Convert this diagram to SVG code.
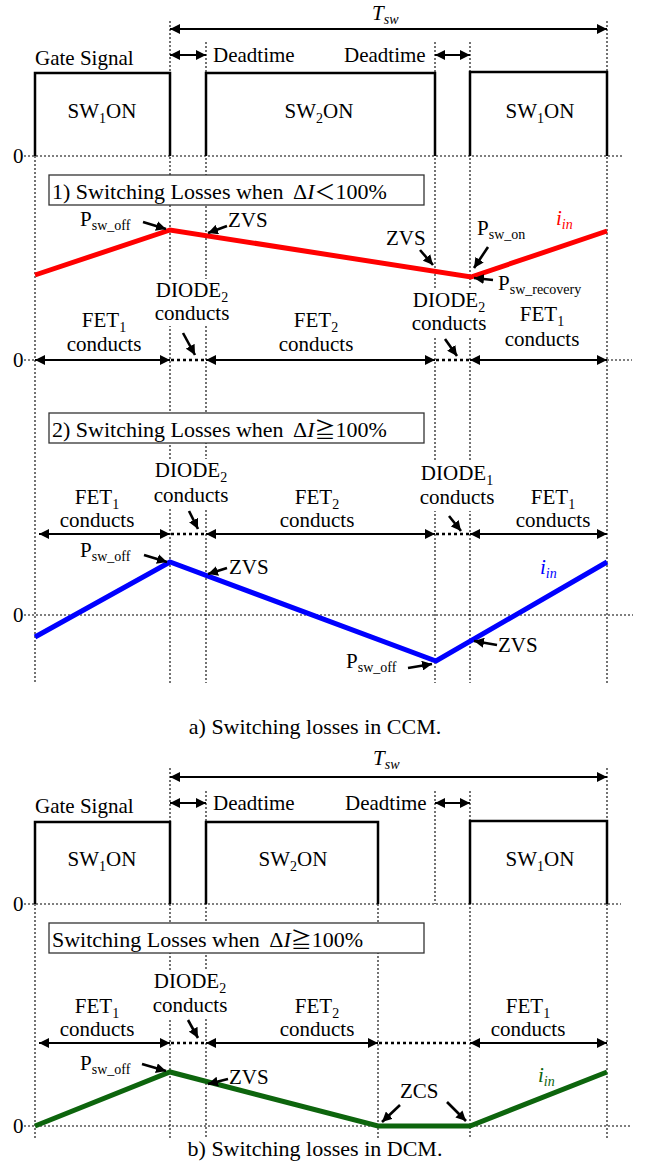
<svg xmlns="http://www.w3.org/2000/svg" width="646" height="1174" viewBox="0 0 646 1174">
<style>
.g{stroke:#000;stroke-width:1.1;stroke-dasharray:2,2;fill:none}
.z{stroke:#000;stroke-width:1.1;stroke-dasharray:2,2;fill:none}
.gate{stroke:#000;stroke-width:2.5;fill:none}
.dbl{stroke:#000;stroke-width:2;fill:none;marker-start:url(#ah);marker-end:url(#ah)}
.dot{stroke:#000;stroke-width:2.5;stroke-dasharray:3,3;fill:none}
.co{stroke:#000;stroke-width:2.6;fill:none;marker-end:url(#ah2)}
.t{font-family:"Liberation Serif","Times New Roman",serif;font-size:21px;fill:#000}
.bt{font-family:"Liberation Serif","Times New Roman",serif;font-size:22px;fill:#000}
.c{text-anchor:middle}
.cap{font-family:"Liberation Serif","Times New Roman",serif;font-size:22px;fill:#000;text-anchor:middle}
.s{font-size:14px}
.box{fill:#fff;stroke:#333;stroke-width:1.3}
.bg{fill:#fff;stroke:none}
.cur{fill:none;stroke-width:5;stroke-linejoin:miter}
</style>
<defs>
<marker id="ah" viewBox="0 0 10 10" refX="10" refY="5" markerWidth="11" markerHeight="10" markerUnits="userSpaceOnUse" orient="auto-start-reverse"><path d="M0,0 L10,5 L0,10 z" fill="#000"/></marker>
<marker id="ah2" viewBox="0 0 10 10" refX="10" refY="5" markerWidth="10" markerHeight="10" markerUnits="userSpaceOnUse" orient="auto"><path d="M0,0 L10,5 L0,10 z" fill="#000"/></marker>
</defs>
<rect width="646" height="1174" fill="#fff"/>

<g id="guides">
<line class="g" x1="35" y1="156" x2="35" y2="683"/>
<line class="g" x1="170" y1="21" x2="170" y2="683"/>
<line class="g" x1="206" y1="42" x2="206" y2="683"/>
<line class="g" x1="435" y1="42" x2="435" y2="683"/>
<line class="g" x1="470" y1="42" x2="470" y2="683"/>
<line class="g" x1="607" y1="21" x2="607" y2="683"/>
<line class="z" x1="24" y1="156" x2="623" y2="156"/>
<line class="z" x1="24" y1="360" x2="35" y2="360"/>
<line class="z" x1="607" y1="360" x2="632" y2="360"/>
<line class="z" x1="24" y1="615" x2="633" y2="615"/>
<line class="g" x1="35" y1="904" x2="35" y2="1138"/>
<line class="g" x1="170" y1="768" x2="170" y2="1138"/>
<line class="g" x1="206" y1="791" x2="206" y2="1138"/>
<line class="g" x1="378" y1="904" x2="378" y2="1138"/>
<line class="g" x1="435" y1="791" x2="435" y2="904"/>
<line class="g" x1="470" y1="791" x2="470" y2="1138"/>
<line class="g" x1="607" y1="768" x2="607" y2="1138"/>
<line class="z" x1="24" y1="904" x2="621" y2="904"/>
<line class="z" x1="24" y1="1126" x2="632" y2="1126"/>
</g>

<g id="label-backgrounds">
<rect class="bg" x="151" y="279" width="81" height="47"/>
<rect class="bg" x="409" y="289" width="80" height="47"/>
<rect class="bg" x="150" y="459" width="82" height="49"/>
<rect class="bg" x="416" y="462" width="82" height="49"/>
<rect class="bg" x="150" y="970" width="80" height="48"/>
</g>

<g id="gate-a">
<path class="gate" d="M35,156 V73 H170 V156"/>
<path class="gate" d="M206,156 V73 H435 V156"/>
<path class="gate" d="M470,156 V72 H607 V156"/>
<text class="t c" x="102" y="118">SW<tspan class="s" dy="5">1</tspan><tspan dy="-5">ON</tspan></text>
<text class="t c" x="319" y="118">SW<tspan class="s" dy="5">2</tspan><tspan dy="-5">ON</tspan></text>
<text class="t c" x="540" y="118">SW<tspan class="s" dy="5">1</tspan><tspan dy="-5">ON</tspan></text>
<text class="t" x="35" y="65">Gate Signal</text>
<text class="t" x="213" y="62">Deadtime</text>
<text class="t" x="344" y="62">Deadtime</text>
<text class="t" x="372" y="20" font-style="italic">T<tspan class="s" dy="4">sw</tspan></text>
<text class="t" x="13" y="163">0</text>
</g>

<g id="case-a1">
<rect class="box" x="49" y="175" width="375" height="30"/>
<text class="bt" x="52" y="199">1) Switching Losses when <tspan dx="4">Δ</tspan><tspan font-style="italic">I</tspan><tspan font-family="'Noto Sans CJK JP',sans-serif" font-size="21">＜</tspan>100%</text>
<polyline class="cur" stroke="#ff0000" points="35,275 170,230 471,277 607,231"/>
<text class="t" x="556" y="225" style="fill:#ff0000" font-style="italic">i<tspan class="s" dy="4">in</tspan></text>
<text class="t" x="80" y="226">P<tspan class="s" dy="4">sw_off</tspan></text>
<text class="t" x="228" y="227">ZVS</text>
<text class="t" x="386" y="245">ZVS</text>
<text class="t" x="477" y="235">P<tspan class="s" dy="4">sw_on</tspan></text>
<text class="t" x="498" y="290">P<tspan class="s" dy="4">sw_recovery</tspan></text>
<text class="t c" x="104" y="327">FET<tspan class="s" dy="5">1</tspan></text>
<text class="t c" x="104" y="351">conducts</text>
<text class="t c" x="192" y="297">DIODE<tspan class="s" dy="5">2</tspan></text>
<text class="t c" x="192" y="320">conducts</text>
<text class="t c" x="316" y="327">FET<tspan class="s" dy="5">2</tspan></text>
<text class="t c" x="316" y="351">conducts</text>
<text class="t c" x="449" y="307">DIODE<tspan class="s" dy="5">2</tspan></text>
<text class="t c" x="449" y="330">conducts</text>
<text class="t c" x="542" y="321">FET<tspan class="s" dy="5">1</tspan></text>
<text class="t c" x="542" y="346">conducts</text>
<text class="t" x="13" y="367">0</text>
</g>

<g id="case-a2">
<rect class="box" x="49" y="413" width="375" height="30"/>
<text class="bt" x="52" y="437">2) Switching Losses when <tspan dx="4">Δ</tspan><tspan font-style="italic">I</tspan><tspan font-family="'Noto Sans CJK JP',sans-serif" font-size="21">≧</tspan>100%</text>
<polyline class="cur" stroke="#0000ff" points="35,637 170,562 436,661 607,562"/>
<text class="t" x="540" y="574" style="fill:#0000ff" font-style="italic">i<tspan class="s" dy="4">in</tspan></text>
<text class="t" x="80" y="557">P<tspan class="s" dy="4">sw_off</tspan></text>
<text class="t" x="229" y="574">ZVS</text>
<text class="t" x="498" y="652">ZVS</text>
<text class="t" x="346" y="668">P<tspan class="s" dy="4">sw_off</tspan></text>
<text class="t c" x="97" y="504">FET<tspan class="s" dy="5">1</tspan></text>
<text class="t c" x="97" y="527">conducts</text>
<text class="t c" x="191" y="477">DIODE<tspan class="s" dy="5">2</tspan></text>
<text class="t c" x="191" y="502">conducts</text>
<text class="t c" x="317" y="504">FET<tspan class="s" dy="5">2</tspan></text>
<text class="t c" x="317" y="527">conducts</text>
<text class="t c" x="457" y="480">DIODE<tspan class="s" dy="5">1</tspan></text>
<text class="t c" x="457" y="504">conducts</text>
<text class="t c" x="553" y="504">FET<tspan class="s" dy="5">1</tspan></text>
<text class="t c" x="553" y="527">conducts</text>
<text class="t" x="13" y="622">0</text>
<text class="cap" x="315" y="734">a) Switching losses in CCM.</text>
</g>

<g id="gate-b">
<path class="gate" d="M35,904 V822 H170 V904"/>
<path class="gate" d="M206,904 V822 H378 V904"/>
<path class="gate" d="M470,904 V821 H607 V904"/>
<text class="t c" x="102" y="866">SW<tspan class="s" dy="5">1</tspan><tspan dy="-5">ON</tspan></text>
<text class="t c" x="293" y="866">SW<tspan class="s" dy="5">2</tspan><tspan dy="-5">ON</tspan></text>
<text class="t c" x="540" y="866">SW<tspan class="s" dy="5">1</tspan><tspan dy="-5">ON</tspan></text>
<text class="t" x="35" y="813">Gate Signal</text>
<text class="t" x="213" y="810">Deadtime</text>
<text class="t" x="345" y="810">Deadtime</text>
<text class="t" x="373" y="765" font-style="italic">T<tspan class="s" dy="4">sw</tspan></text>
<text class="t" x="13" y="911">0</text>
</g>

<g id="case-b">
<rect class="box" x="49" y="923" width="375" height="30"/>
<text class="bt" x="52" y="947">Switching Losses when <tspan dx="4">Δ</tspan><tspan font-style="italic">I</tspan><tspan font-family="'Noto Sans CJK JP',sans-serif" font-size="21">≧</tspan>100%</text>
<polyline class="cur" stroke="#0d650d" points="35,1126 170,1072 378,1126 470,1126 607,1072"/>
<text class="t" x="538" y="1082" style="fill:#0d650d" font-style="italic">i<tspan class="s" dy="4">in</tspan></text>
<text class="t" x="80" y="1070">P<tspan class="s" dy="4">sw_off</tspan></text>
<text class="t" x="229" y="1084">ZVS</text>
<text class="t" x="400" y="1098">ZCS</text>
<text class="t c" x="97" y="1013">FET<tspan class="s" dy="5">1</tspan></text>
<text class="t c" x="97" y="1036">conducts</text>
<text class="t c" x="190" y="988">DIODE<tspan class="s" dy="5">2</tspan></text>
<text class="t c" x="190" y="1012">conducts</text>
<text class="t c" x="317" y="1013">FET<tspan class="s" dy="5">2</tspan></text>
<text class="t c" x="317" y="1036">conducts</text>
<text class="t c" x="528" y="1013">FET<tspan class="s" dy="5">1</tspan></text>
<text class="t c" x="528" y="1036">conducts</text>
<text class="t" x="13" y="1133">0</text>
<text class="cap" x="315" y="1156">b) Switching losses in DCM.</text>
</g>

<g id="connectors">
<line class="dbl" x1="170" y1="29" x2="607" y2="29"/>
<line class="dbl" x1="170" y1="55" x2="206" y2="55"/>
<line class="dbl" x1="435" y1="55" x2="470" y2="55"/>
<line class="dbl" x1="35" y1="360" x2="170" y2="360"/>
<line class="dot" x1="171" y1="360" x2="205" y2="360"/>
<line class="dbl" x1="206" y1="360" x2="435" y2="360"/>
<line class="dot" x1="436" y1="360" x2="469" y2="360"/>
<line class="dbl" x1="470" y1="360" x2="607" y2="360"/>
<line class="dbl" x1="39" y1="534" x2="170" y2="534"/>
<line class="dot" x1="171" y1="534" x2="205" y2="534"/>
<line class="dbl" x1="206" y1="534" x2="435" y2="534"/>
<line class="dot" x1="436" y1="534" x2="469" y2="534"/>
<line class="dbl" x1="470" y1="534" x2="607" y2="534"/>
<line class="dbl" x1="170" y1="777" x2="607" y2="777"/>
<line class="dbl" x1="170" y1="803" x2="206" y2="803"/>
<line class="dbl" x1="435" y1="803" x2="470" y2="803"/>
<line class="dbl" x1="39" y1="1043" x2="170" y2="1043"/>
<line class="dot" x1="171" y1="1043" x2="205" y2="1043"/>
<line class="dbl" x1="206" y1="1043" x2="378" y2="1043"/>
<line class="dot" x1="379" y1="1043" x2="469" y2="1043"/>
<line class="dbl" x1="470" y1="1043" x2="607" y2="1043"/>
<line class="co" x1="143" y1="222" x2="166" y2="229"/>
<line class="co" x1="227" y1="226" x2="208" y2="233"/>
<line class="co" x1="420" y1="250" x2="433" y2="265"/>
<line class="co" x1="488" y1="247" x2="474" y2="268"/>
<line class="co" x1="493" y1="280" x2="474" y2="278"/>
<line class="co" x1="183" y1="333" x2="195" y2="355"/>
<line class="co" x1="445" y1="339" x2="457" y2="356"/>
<line class="co" x1="189" y1="511" x2="198" y2="529"/>
<line class="co" x1="449" y1="516" x2="461" y2="531"/>
<line class="co" x1="144" y1="555" x2="167" y2="562"/>
<line class="co" x1="227" y1="568" x2="208" y2="574"/>
<line class="co" x1="497" y1="645" x2="474" y2="641"/>
<line class="co" x1="408" y1="668" x2="432" y2="664"/>
<line class="co" x1="188" y1="1020" x2="198" y2="1038"/>
<line class="co" x1="142" y1="1064" x2="166" y2="1071"/>
<line class="co" x1="228" y1="1079" x2="208" y2="1084"/>
<line class="co" x1="400" y1="1105" x2="382" y2="1122"/>
<line class="co" x1="447" y1="1102" x2="466" y2="1121"/>
</g>
</svg>
